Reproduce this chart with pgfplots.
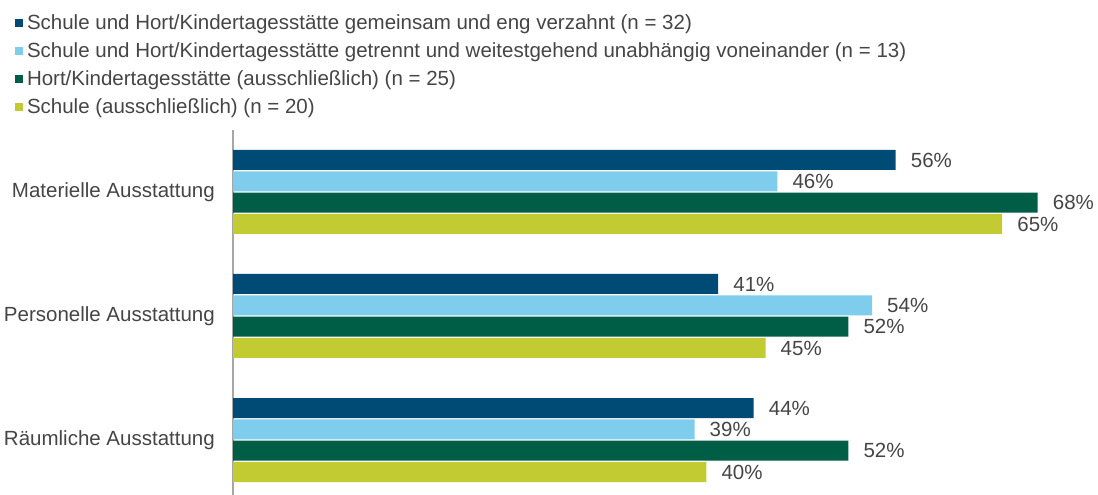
\documentclass[border=0pt]{standalone}
\usepackage{pgfplots}
\pgfplotsset{compat=1.18}
\usepackage{fontspec}
\setmainfont{Liberation Sans}
\definecolor{c1}{HTML}{004B76}
\definecolor{c2}{HTML}{7FCDEC}
\definecolor{c3}{HTML}{005E47}
\definecolor{c4}{HTML}{C3CB32}
\definecolor{txt}{HTML}{454545}
\definecolor{axl}{HTML}{A6A6A6}
\begin{document}
\begin{tikzpicture}[x=1pt,y=1pt]
\fontsize{20.5}{24}\selectfont
\begin{axis}[
  at={(233pt,0pt)}, anchor=south west,
  xbar, scale only axis, width=826pt, height=365pt,
  xmin=0, xmax=69.8, ymin=-0.4435, ymax=2.5,
  axis x line=none, axis y line=left,
  axis line style={draw=axl, line width=1.3pt, -},
  ytick={0,1,2},
  yticklabels={Räumliche Ausstattung, Personelle Ausstattung, Materielle Ausstattung},
  major tick length=0pt, ytick style={draw=none},
  yticklabel style={font=\fontsize{20.5}{24}\selectfont, text=txt, inner sep=0pt, xshift=-18pt},
  bar width=20pt,
  nodes near coords={\pgfmathprintnumber{\pgfplotspointmeta}\%},
  nodes near coords style={font=\fontsize{20.5}{24}\selectfont, text=txt, anchor=west, inner sep=0pt, xshift=15pt, /pgf/number format/assume math mode=true},
  clip=false,
  legend style={at={(axis description cs:-0.2639,1.317)}, anchor=north west, draw=none, fill=none,
    inner sep=0pt, outer sep=0pt, row sep=8pt, column sep=4pt,
    font=\fontsize{20.5}{24}\selectfont, text=txt,
    nodes={inner sep=0pt, text height=15pt, text depth=5pt}},
  legend cell align=left,
  legend image code/.code={\fill[#1] (0pt,-3pt) rectangle (8pt,5pt);},
]
\addplot[fill=c1, draw=none, bar shift=32pt] coordinates {(56,2) (41,1) (44,0)};
\addplot[fill=c2, draw=none, bar shift=10.7pt] coordinates {(46,2) (54,1) (39,0)};
\addplot[fill=c3, draw=none, bar shift=-10.7pt] coordinates {(68,2) (52,1) (52,0)};
\addplot[fill=c4, draw=none, bar shift=-32pt] coordinates {(65,2) (45,1) (40,0)};
\legend{Schule und Hort/Kindertagesstätte gemeinsam und eng verzahnt (n = 32),
Schule und Hort/Kindertagesstätte getrennt und weitestgehend unabhängig voneinander (n = 13),
Hort/Kindertagesstätte (ausschließlich) (n = 25),
Schule (ausschließlich) (n = 20)}
\end{axis}
\pgfresetboundingbox
\useasboundingbox (0,0) rectangle (1098,495);
\end{tikzpicture}
\end{document}
